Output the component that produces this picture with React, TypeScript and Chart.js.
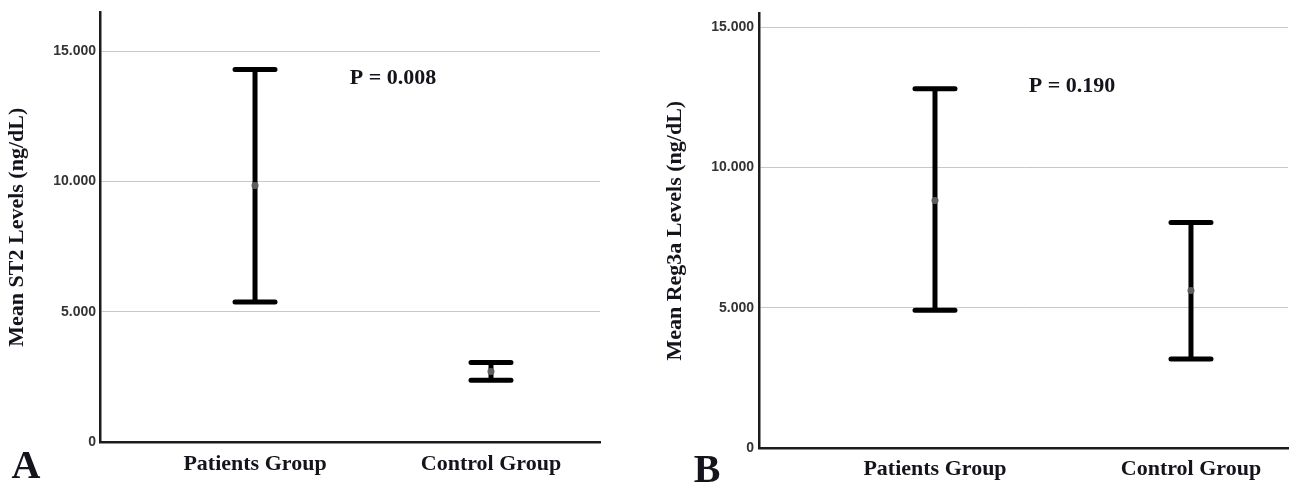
import React, { useEffect, useRef } from "react";
import { Chart, registerables } from "chart.js";

Chart.register(...registerables);

// ---- data ----
const groups = ["Patients Group", "Control Group"];
const groupX = [1, 2];
const st2Lower = [5.38, 2.37];
const st2Upper = [14.31, 3.05];
const st2Mean = [9.85, 2.71];
const reg3aLower = [4.91, 3.17];
const reg3aUpper = [12.81, 8.04];
const reg3aMean = [8.83, 5.62];
const yTicks = [0, 5, 10, 15];
const yTitles = ["Mean ST2 Levels (ng/dL)", "Mean Reg3a Levels (ng/dL)"];
const pValueTexts = ["P = 0.008", "P = 0.190"];
const panelLetters = ["A", "B"];

const SERIF = "'Liberation Serif', 'Times New Roman', serif";
const SANS = "'Liberation Sans', Arial, sans-serif";
const TEXT = "#14141c";

const errorBarPlugin = {
  id: "errorBars",
  beforeDatasetsDraw(chart: any) {
    const ctx = chart.ctx;
    const xs = chart.scales.x;
    const ys = chart.scales.y;
    chart.data.datasets.forEach((ds: any) => {
      if (!ds.errLower) return;
      ds.data.forEach((pt: any, i: number) => {
        const x = xs.getPixelForValue(pt.x);
        const yl = ys.getPixelForValue(ds.errLower[i]);
        const yu = ys.getPixelForValue(ds.errUpper[i]);
        ctx.save();
        ctx.strokeStyle = "#000";
        ctx.lineWidth = 5;
        ctx.lineCap = "butt";
        ctx.beginPath();
        ctx.moveTo(x, yl);
        ctx.lineTo(x, yu);
        ctx.stroke();
        ctx.lineCap = "round";
        ctx.beginPath();
        ctx.moveTo(x - 20, yl);
        ctx.lineTo(x + 20, yl);
        ctx.moveTo(x - 20, yu);
        ctx.lineTo(x + 20, yu);
        ctx.stroke();
        ctx.restore();
      });
    });
  },
};

const textPlugin = {
  id: "panelText",
  afterDraw(chart: any, _args: any, opts: any) {
    const ctx = chart.ctx;
    ctx.save();
    ctx.fillStyle = TEXT;
    ctx.textAlign = "center";
    ctx.textBaseline = "alphabetic";
    ctx.font = `bold 22px ${SERIF}`;
    ctx.fillText(opts.pText, opts.px, opts.py);
    ctx.font = `bold 40px ${SERIF}`;
    ctx.fillText(opts.letter, opts.lx, opts.ly);
    ctx.restore();
  },
};

type PanelCfg = {
  left: number;
  width: number;
  yWidth: number;
  xHeight: number;
  padTop: number;
  padRight: number;
  yMax: number;
  xMin: number;
  xMax: number;
  titlePad: number;
  tickPadY: number;
  tickPadX: number;
  lower: number[];
  upper: number[];
  mean: number[];
  yTitle: string;
  pText: string;
  px: number;
  py: number;
  letter: string;
  lx: number;
  ly: number;
};

const panels: PanelCfg[] = [
  {
    left: 0, width: 640, yWidth: 100, xHeight: 41, padTop: 10, padRight: 40,
    yMax: 16.5, xMin: 0.343, xMax: 2.462, titlePad: 4, tickPadY: 4, tickPadX: 9,
    lower: st2Lower, upper: st2Upper, mean: st2Mean, yTitle: yTitles[0],
    pText: pValueTexts[0], px: 393, py: 84, letter: panelLetters[0], lx: 26, ly: 478,
  },
  {
    left: 640, width: 654, yWidth: 119, xHeight: 35, padTop: 12, padRight: 6,
    yMax: 15.5, xMin: 0.3125, xMax: 2.379, titlePad: 22, tickPadY: 5, tickPadX: 8,
    lower: reg3aLower, upper: reg3aUpper, mean: reg3aMean, yTitle: yTitles[1],
    pText: pValueTexts[1], px: 432, py: 92, letter: panelLetters[1], lx: 67, ly: 482,
  },
];

function Panel({ cfg }: { cfg: PanelCfg }) {
  const ref = useRef<HTMLCanvasElement>(null);
  useEffect(() => {
    const chart = new Chart(ref.current as HTMLCanvasElement, {
      type: "scatter",
      data: {
        datasets: [
          {
            data: groupX.map((x, i) => ({ x, y: cfg.mean[i] })),
            errLower: cfg.lower,
            errUpper: cfg.upper,
            pointRadius: 3.5,
            pointBackgroundColor: "#5e5e5e",
            pointBorderWidth: 0,
          } as any,
        ],
      },
      options: {
        animation: false,
        responsive: false,
        devicePixelRatio: 1,
        layout: { padding: { top: cfg.padTop, right: cfg.padRight, left: 0, bottom: 0 } },
        plugins: {
          legend: { display: false },
          tooltip: { enabled: false },
          panelText: {
            pText: cfg.pText, px: cfg.px, py: cfg.py,
            letter: cfg.letter, lx: cfg.lx, ly: cfg.ly,
          },
        } as any,
        scales: {
          x: {
            type: "linear",
            min: cfg.xMin,
            max: cfg.xMax,
            afterBuildTicks: (s: any) => {
              s.ticks = groupX.map((v) => ({ value: v }));
            },
            afterFit: (s: any) => {
              s.height = cfg.xHeight;
            },
            grid: { display: true, color: "rgba(0,0,0,0)", drawTicks: false },
            border: { display: true, color: "#1c1c1c", width: 2.5 },
            ticks: {
              autoSkip: false,
              maxRotation: 0,
              padding: cfg.tickPadX,
              color: TEXT,
              font: { family: SERIF, size: 22, weight: "bold" },
              callback: (v: any) => {
                const idx = groupX.indexOf(Number(v));
                return idx >= 0 ? groups[idx] : "";
              },
            },
          },
          y: {
            type: "linear",
            min: 0,
            max: cfg.yMax,
            afterBuildTicks: (s: any) => {
              s.ticks = yTicks.map((v) => ({ value: v }));
            },
            afterFit: (s: any) => {
              s.width = cfg.yWidth;
            },
            grid: { color: "#c8c8c8", lineWidth: 1, drawTicks: false },
            border: { display: true, color: "#1c1c1c", width: 2.5 },
            title: {
              display: true,
              text: cfg.yTitle,
              color: TEXT,
              font: { family: SERIF, size: 22, weight: "bold" },
              padding: { top: cfg.titlePad, bottom: 0 },
            },
            ticks: {
              padding: cfg.tickPadY,
              color: "#333",
              font: { family: SANS, size: 14, weight: "bold" },
              callback: (v: any) => (Number(v) === 0 ? "0" : Number(v).toFixed(3)),
            },
          },
        },
      },
      plugins: [errorBarPlugin, textPlugin],
    });
    return () => chart.destroy();
  }, []);
  return (
    <canvas
      ref={ref}
      width={cfg.width}
      height={483}
      style={{ position: "absolute", left: cfg.left, top: 0, width: cfg.width, height: 483 }}
    />
  );
}

export default function App() {
  return (
    <div style={{ position: "absolute", left: 0, top: 0, width: 1294, height: 483, background: "#fff" }}>
      {panels.map((p, i) => (
        <Panel key={i} cfg={p} />
      ))}
    </div>
  );
}
